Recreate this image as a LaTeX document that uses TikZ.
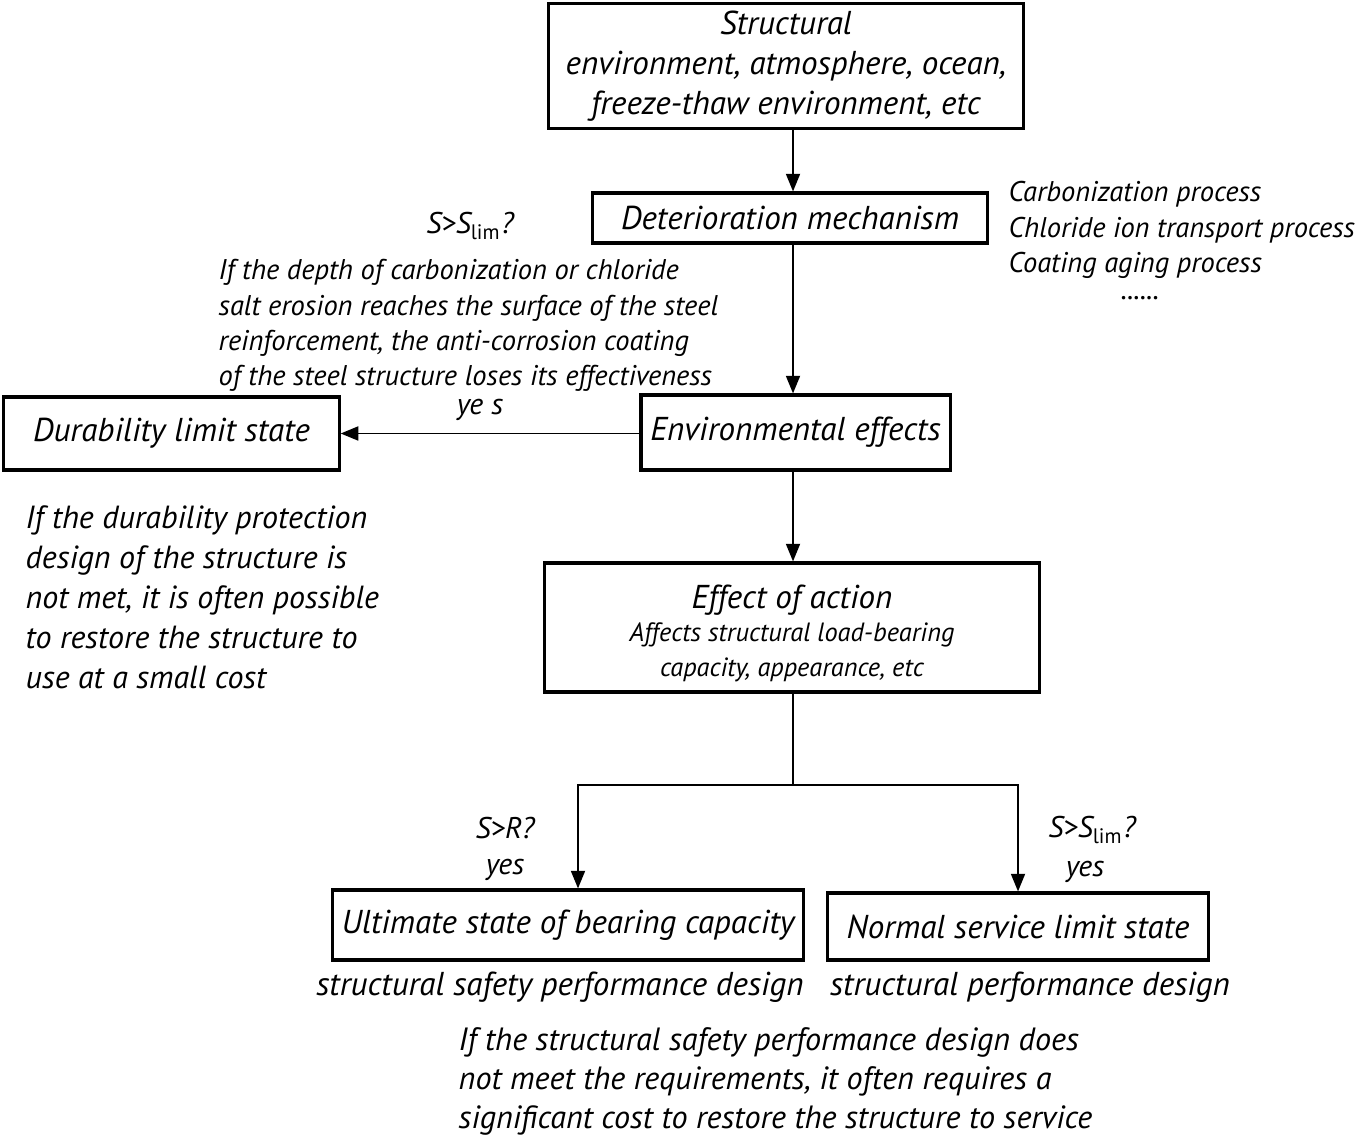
\documentclass[tikz,border=0pt]{standalone}
\usepackage{fontspec}
\setmainfont{PT Sans}
\usetikzlibrary{arrows.meta, positioning}

\tikzset{
  stage/.style = {draw, line width=0.9pt, inner sep=0pt, align=center,
                  font=\itshape\fontsize{9.4}{11.4}\selectfont},
  flow/.style  = {line width=0.45pt, -{Triangle[length=5pt,width=4pt]}},
  note/.style  = {inner sep=0pt, align=left, font=\itshape\fontsize{8.1}{10}\selectfont},
  tag/.style   = {inner sep=0pt, font=\itshape\fontsize{8.5}{10}\selectfont},
}

\begin{document}
\begin{tikzpicture}[x=0.01cm, y=-0.01cm]
\useasboundingbox (0,0) rectangle (1355,1137);

% main chain
\node[stage, minimum width=4.74cm, minimum height=1.25cm] (envt) at (786,66)
  {Structural\\environment, atmosphere, ocean,\\freeze-thaw environment, etc};
\node[stage, minimum width=3.94cm, minimum height=0.5cm] (mech) at (790,218) {Deterioration mechanism};
\node[stage, minimum width=3.09cm, minimum height=0.75cm] (effe) at (795.5,432.5) {Environmental effects};
\node[stage, minimum width=3.35cm, minimum height=0.73cm] (dura) at (171.5,433.5) {Durability limit state};
\node[stage, minimum width=4.94cm, minimum height=1.29cm] (acti) at (792,627.5)
  {\rule{0pt}{10pt}Effect of action\\[-2pt]{\fontsize{7.5}{10}\selectfont Affects structural load-bearing}\\[-1.4pt]{\fontsize{7.5}{10}\selectfont capacity, appearance, etc}};
\node[stage, minimum width=4.70cm, minimum height=0.70cm] (ulti) at (568,925) {Ultimate state of bearing capacity};
\node[stage, minimum width=3.80cm, minimum height=0.67cm] (serv) at (1018,926.5) {Normal service limit state};

% helper points
\coordinate (spine) at (793,0);
\coordinate (fork) at (793,785);

\draw[flow] (spine |- envt.south) -- (spine |- mech.north);
\draw[flow] (spine |- mech.south) -- (spine |- effe.north);
\draw[flow] (spine |- effe.south) -- (spine |- acti.north);
\draw[flow] (effe.west |- dura.east) -- (dura.east);
\draw[line width=0.45pt] (spine |- acti.south) -- (fork);
\draw[flow] (fork) -| (578,0 |- ulti.north);
\draw[flow] (fork) -| (serv.north);

% conditions
\node[tag] (slim1) at (470,226) {S>S\textsubscript{\upshape lim}?};
\node[tag] (yes1) at (480,410) {ye s};
\node[tag] (sr) at (505,828) {S>R?};
\node[tag] (yes2) at (505,870) {yes};
\node[tag] (slim2) at (1092,830) {S>S\textsubscript{\upshape lim}?};
\node[tag] (yes3) at (1085,872) {yes};

% remarks
\node[note, anchor=north west] (depth) at (218,259)
  {If the depth of carbonization or chloride\\salt erosion reaches the surface of the steel\\reinforcement, the anti-corrosion coating\\of the steel structure loses its effectiveness};
\node[note, anchor=north west] (procs) at (1008,181)
  {Carbonization process\\Chloride ion transport process\\Coating aging process};
\node[tag] (dots) at (1140,298) {......};
\node[note, anchor=north west, font=\itshape\fontsize{9.1}{11.4}\selectfont] (restore) at (25,505)
  {If the durability protection\\design of the structure is\\not met, it is often possible\\to restore the structure to\\use at a small cost};
\node[tag, font=\itshape\fontsize{9.4}{11}\selectfont] (safe) at (560,987) {structural safety performance design};
\node[tag, font=\itshape\fontsize{9.4}{11}\selectfont] (perf) at (1030,987) {structural performance design};
\node[note, anchor=north west, font=\itshape\fontsize{9.15}{11.1}\selectfont] (cost) at (458,1027)
  {If the structural safety performance design does\\not meet the requirements, it often requires a\\significant cost to restore the structure to service};
\end{tikzpicture}
\end{document}
